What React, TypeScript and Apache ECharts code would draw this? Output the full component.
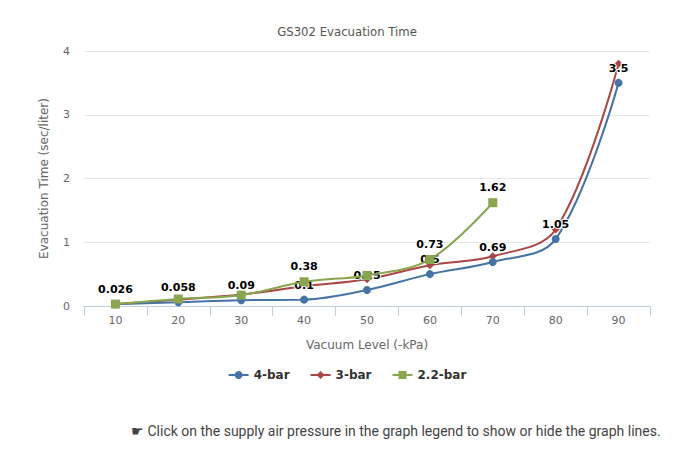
import React, { useEffect, useRef } from "react";
import * as echarts from "echarts";

const categories = ["10", "20", "30", "40", "50", "60", "70", "80", "90"];
const bar4 = [0.026, 0.058, 0.09, 0.1, 0.25, 0.5, 0.69, 1.05, 3.5];
const bar3 = [0.03, 0.1, 0.18, 0.31, 0.42, 0.64, 0.78, 1.2, 3.8];
const bar22 = [0.03, 0.11, 0.17, 0.38, 0.48, 0.73, 1.62, null, null];
const bar22Labeled = [3, 5, 6];
const yTicks = [0, 1, 2, 3, 4];

const labelStyle = {
  show: true,
  position: "top",
  distance: 5,
  color: "#000",
  fontWeight: "bold",
  fontSize: 11,
  fontFamily: "DejaVu Sans, Verdana, sans-serif",
  textBorderColor: "#fff",
  textBorderWidth: 2,
};

export default function App() {
  const ref = useRef<HTMLDivElement>(null);
  useEffect(() => {
    if (!ref.current) return;
    const chart = echarts.init(ref.current, null, { renderer: "svg" });
    chart.setOption({
      animation: false,
      backgroundColor: "#fff",
      title: {
        text: "GS302 Evacuation Time",
        left: "center",
        top: 20,
        textStyle: {
          fontSize: 13,
          fontWeight: "normal",
          color: "#555",
          fontFamily: "Liberation Sans Narrow, DejaVu Sans Condensed, sans-serif",
        },
      },
      grid: { left: 84, right: 44, top: 51, bottom: 146, containLabel: false },
      legend: {
        bottom: 66,
        left: "center",
        itemGap: 20,
        itemWidth: 20,
        itemHeight: 10,
        textStyle: {
          fontWeight: "bold",
          fontSize: 12,
          color: "#333",
          fontFamily: "DejaVu Sans, Verdana, sans-serif",
        },
        data: ["4-bar", "3-bar", "2.2-bar"],
      },
      xAxis: {
        type: "category",
        data: categories,
        boundaryGap: true,
        name: "Vacuum Level (-kPa)",
        nameLocation: "middle",
        nameGap: 33,
        nameTextStyle: { fontSize: 12, color: "#666", fontFamily: "DejaVu Sans, Verdana, sans-serif" },
        axisLine: { lineStyle: { color: "#C0D0E0", width: 1 } },
        axisTick: { show: true, alignWithLabel: false, length: 10, lineStyle: { color: "#C0D0E0" } },
        axisLabel: { color: "#666", fontSize: 11, margin: 9, fontFamily: "DejaVu Sans, Verdana, sans-serif" },
        splitLine: { show: false },
      },
      yAxis: {
        type: "value",
        min: 0,
        max: 4,
        interval: 1,
        name: "Evacuation Time (sec/liter)",
        nameLocation: "middle",
        nameGap: 34,
        nameTextStyle: { fontSize: 12, color: "#666", fontFamily: "DejaVu Sans, Verdana, sans-serif" },
        axisLine: { show: false },
        axisTick: { show: false },
        axisLabel: {
          color: "#666",
          fontSize: 11,
          margin: 14,
          fontFamily: "DejaVu Sans, Verdana, sans-serif",
          formatter: (v: number) => (yTicks.includes(v) ? String(v) : ""),
        },
        splitLine: { lineStyle: { color: "#E6E6E6", width: 1 } },
      },
      series: [
        {
          name: "4-bar",
          type: "line",
          data: bar4,
          smooth: 0.35,
          symbol: "circle",
          symbolSize: 8,
          color: "#4572A7",
          lineStyle: { width: 2 },
          label: labelStyle,
          z: 3,
        },
        {
          name: "3-bar",
          type: "line",
          data: bar3,
          smooth: 0.35,
          symbol: "diamond",
          symbolSize: 8,
          color: "#AA4643",
          lineStyle: { width: 2 },
          label: { show: false },
          z: 2,
        },
        {
          name: "2.2-bar",
          type: "line",
          data: bar22.map((v, i) =>
            bar22Labeled.includes(i) ? { value: v, label: labelStyle } : { value: v }
          ),
          smooth: 0.35,
          symbol: "rect",
          symbolSize: 9,
          color: "#89A54E",
          lineStyle: { width: 2 },
          label: { show: false },
          connectNulls: false,
          z: 4,
        },
      ],
      graphic: [
        {
          type: "text",
          left: 131,
          top: 424,
          style: {
            text: "\u261B Click on the supply air pressure in the graph legend to show or hide the graph lines.",
            fontSize: 14,
            fill: "#444",
            fontFamily: "Roboto, sans-serif",
          },
        },
      ],
    });
    return () => chart.dispose();
  }, []);
  return (
    <div style={{ position: "fixed", left: 0, top: 0, width: 694, height: 452, background: "#fff" }}>
      <div ref={ref} style={{ width: 694, height: 452 }} />
    </div>
  );
}
